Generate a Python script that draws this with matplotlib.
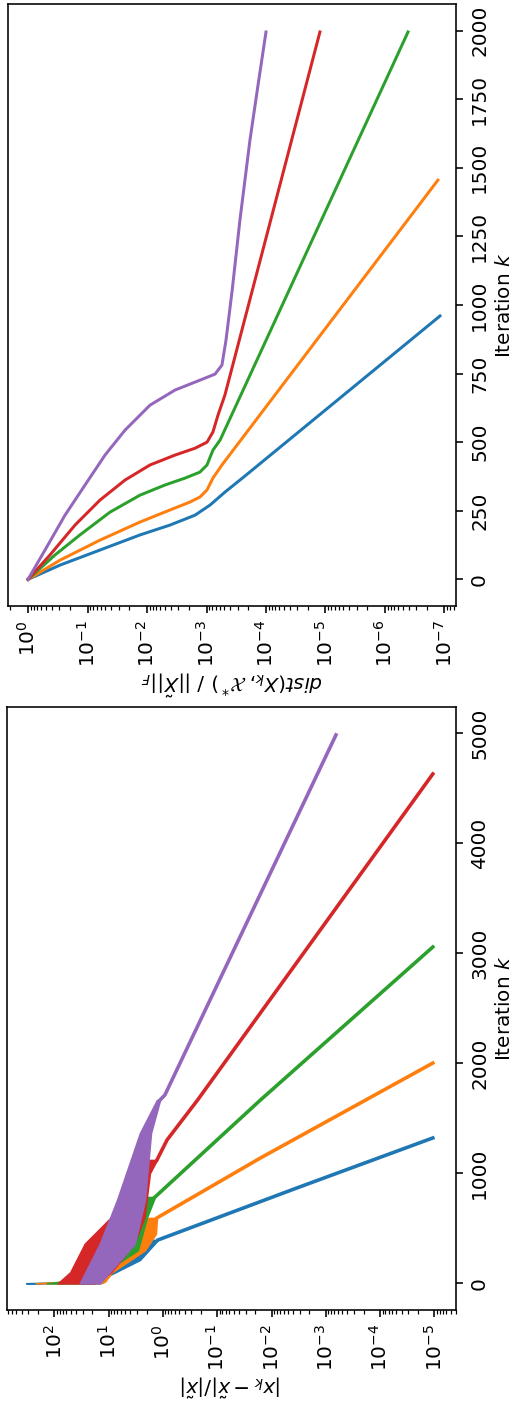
import matplotlib.pyplot as plt
import numpy as np
from matplotlib.ticker import LogLocator, NullFormatter

# --- top panel: dist(X_k, X*) / ||X~||_F against iteration k ---
dist_k_c0 = [0, 52, 107, 162, 198, 234, 271, 318, 377, 960]
dist_v_c0 = [1.0, 0.29, 0.0617, 0.0131, 4.1e-3, 1.56e-3, 8.7e-4, 4.9e-4, 2.25e-4, 1.19e-7]
dist_k_c1 = [0, 70, 143, 209, 253, 282, 300, 326, 369, 417, 1455]
dist_v_c1 = [1.0, 0.29, 0.0617, 0.0131, 4.1e-3, 1.89e-3, 1.29e-3, 9.8e-4, 7.8e-4, 5.5e-4, 1.29e-7]
dist_k_c2 = [0, 89, 162, 245, 307, 344, 369, 391, 417, 471, 508, 1995]
dist_v_c2 = [1.0, 0.352, 0.134, 0.0419, 0.0131, 4.98e-3, 2.3e-3, 1.29e-3, 9.8e-4, 7.8e-4, 5.9e-4, 4.1e-7]
dist_k_c3 = [0, 89, 198, 289, 362, 417, 453, 478, 500, 537, 599, 672, 1995]
dist_v_c3 = [1.0, 0.427, 0.162, 0.0617, 0.0234, 8.9e-3, 3.38e-3, 1.56e-3, 9.8e-4, 7.8e-4, 6.4e-4, 4.9e-4, 1.24e-5]
dist_k_c4 = [0, 107, 234, 344, 453, 544, 635, 690, 726, 748, 781, 872, 1054, 1310, 1601, 1802, 1995]
dist_v_c4 = [1.0, 0.518, 0.239, 0.110, 0.0508, 0.0234, 8.9e-3, 3.38e-3, 1.29e-3, 7.2e-4,
             5.5e-4, 4.7e-4, 3.7e-4, 2.74e-4, 1.86e-4, 1.36e-4, 1.0e-4]

# --- bottom panel: |x_k - x~| / |x~|, oscillating phase drawn as an envelope ---
band_k_c0 = [0, 10, 75, 212, 394]
band_hi_c0 = [331, 51, 27.5, 14.5, 6.2]
band_lo_c0 = [14.5, 12.6, 9.5, 2.65, 1.23]
tail_k_c0 = [394, 860, 1321]
tail_v_c0 = [1.23, 3.7e-3, 1.07e-5]

band_k_c1 = [0, 15, 100, 300, 450, 594]
band_hi_c1 = [219, 60, 30, 14.5, 7.6, 5.0]
band_lo_c1 = [14.5, 11.7, 8.7, 2.15, 1.35, 1.29]
tail_k_c1 = [594, 1139, 2002]
tail_v_c1 = [1.29, 0.016, 1.07e-5]

band_k_c2 = [0, 20, 180, 300, 600, 784]
band_hi_c2 = [137, 60, 30, 14.5, 6.8, 4.1]
band_lo_c2 = [17.9, 16.4, 6.8, 2.9, 1.97, 1.40]
tail_k_c2 = [784, 1666, 3057]
tail_v_c2 = [1.40, 0.016, 1.07e-5]

band_k_c3 = [0, 100, 360, 600, 1000, 1121]
band_hi_c3 = [86, 51, 27.5, 9.0, 3.6, 2.2]
band_lo_c3 = [17.9, 9.0, 3.4, 2.2, 1.74, 1.29]
tail_k_c3 = [1121, 1303, 1666, 4630]
tail_v_c3 = [1.29, 0.84, 0.23, 1.07e-5]

band_k_c4 = [0, 360, 757, 1366, 1666]
band_hi_c4 = [34, 14.5, 7.0, 2.65, 1.29]
band_lo_c4 = [14.5, 3.3, 2.15, 1.66, 1.13]
tail_k_c4 = [1666, 1712, 4985]
tail_v_c4 = [1.13, 0.92, 6.5e-4]

colors = ["C0", "C1", "C2", "C3", "C4"]

dist_k = [dist_k_c0, dist_k_c1, dist_k_c2, dist_k_c3, dist_k_c4]
dist_v = [dist_v_c0, dist_v_c1, dist_v_c2, dist_v_c3, dist_v_c4]
bands = [
    (band_k_c0, band_lo_c0, band_hi_c0, tail_k_c0, tail_v_c0),
    (band_k_c1, band_lo_c1, band_hi_c1, tail_k_c1, tail_v_c1),
    (band_k_c2, band_lo_c2, band_hi_c2, tail_k_c2, tail_v_c2),
    (band_k_c3, band_lo_c3, band_hi_c3, tail_k_c3, tail_v_c3),
    (band_k_c4, band_lo_c4, band_hi_c4, tail_k_c4, tail_v_c4),
]

DPI = 144
fig = plt.figure(figsize=(516.01 / DPI, 1401.01 / DPI), dpi=DPI)
ax_top = fig.add_axes([8 / 516, 1 - 606 / 1401, 448 / 516, 602 / 1401])
ax_bot = fig.add_axes([7 / 516, 1 - 1310 / 1401, 449 / 516, 603 / 1401])

for k, v, c in zip(dist_k, dist_v, colors):
    ax_top.plot(v, k, color=c, lw=1.5)

for (bk, lo, hi, tk, tv), c in zip(bands, colors):
    ax_bot.fill_betweenx(bk, lo, hi, color=c, lw=0.8, edgecolor=c)
    ax_bot.plot(tv, tk, color=c, lw=1.8)


def style(ax, xlim, ylim, yticks, xlabel):
    ax.set_xscale("log")
    ax.set_xlim(*xlim)
    ax.set_ylim(*ylim)
    ax.xaxis.set_major_locator(LogLocator(base=10, numticks=20))
    ax.xaxis.set_minor_locator(LogLocator(base=10, subs=np.arange(2, 10), numticks=20))
    ax.xaxis.set_minor_formatter(NullFormatter())
    ax.set_yticks(yticks)
    ax.yaxis.tick_right()
    ax.yaxis.set_label_position("right")
    ax.tick_params(axis="x", labelrotation=90)
    ax.tick_params(axis="y", labelrotation=90)
    plt.setp(ax.get_yticklabels(), va="center")
    ax.xaxis.offsetText.set_visible(False)
    ax.yaxis.offsetText.set_visible(False)
    ylab = ax.set_ylabel("Iteration $k$", rotation=90, labelpad=3)
    ylab.set_rotation_mode("default")
    ylab.set_ha("left")
    ylab.set_va("center")
    lab = ax.set_xlabel(xlabel, rotation=180, labelpad=1)
    lab.set_rotation_mode("default")
    lab.set_va("top")


style(ax_top, (2.17, 6.4e-8), (-97, 2097), np.arange(0, 2001, 250),
      r"$dist(X_k, \mathcal{X}^*)$ / $||\tilde{X}||_F$")
style(ax_bot, (745, 4.0e-6), (-243, 5239), np.arange(0, 5001, 1000),
      r"$|x_k - \tilde{x}|/|\tilde{x}|$")

fig.savefig("out.png", dpi=DPI)
